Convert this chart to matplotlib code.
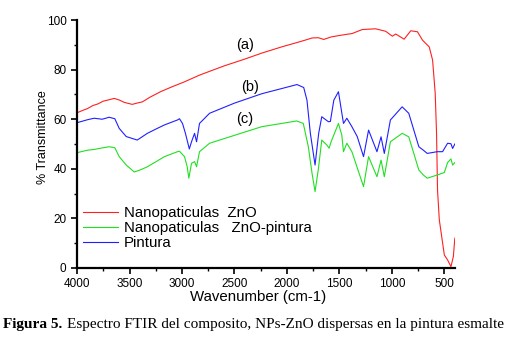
import matplotlib
matplotlib.use('Agg')
import matplotlib.pyplot as plt
from matplotlib.ticker import MultipleLocator

# Spectra (wavenumber cm-1, % transmittance)
wn_zno = [4000, 3950, 3900, 3850, 3800, 3750, 3700, 3646, 3600, 3550, 3474, 3420, 3378,
          3300, 3200, 3100, 2976, 2833, 2600, 2400, 2239, 2050, 1900, 1828, 1760, 1700,
          1649, 1580, 1500, 1378, 1282, 1155, 1059, 995, 963, 883, 820, 756, 708, 644,
          612, 587, 574, 565, 548, 500, 469, 437, 414, 400]
t_zno = [62.6, 63.5, 64.3, 65.5, 66.2, 67.3, 67.8, 68.4, 67.8, 66.8, 66.0, 66.6, 67.0,
         69.0, 71.2, 73.0, 75.1, 77.8, 81.5, 84.3, 86.7, 89.2, 91.0, 91.9, 92.8, 92.9,
         92.2, 93.2, 93.8, 94.6, 96.2, 96.5, 95.5, 93.5, 94.4, 92.3, 95.7, 95.3, 91.9,
         89.2, 83.9, 70.5, 54.0, 31.5, 19.4, 5.2, 3.2, 0.5, 4.6, 12.0]

wn_mix = [4000, 3900, 3837, 3789, 3694, 3640, 3598, 3531, 3455, 3400, 3330, 3250, 3167,
          3043, 3024, 2976, 2950, 2935, 2909, 2880, 2861, 2833, 2737, 2500, 2239, 2050,
          1907, 1844, 1796, 1760, 1732, 1700, 1668, 1620, 1598, 1579, 1509, 1477, 1461,
          1429, 1381, 1333, 1270, 1222, 1142, 1103, 1072, 1014, 902, 839, 743, 700,
          663, 567, 500, 469, 437, 421, 400]
t_mix = [46.5, 47.5, 47.8, 48.2, 48.9, 48.5, 44.9, 41.5, 38.7, 39.5, 40.8, 42.8, 44.9,
         46.9, 47.1, 44.9, 40.8, 36.2, 42.2, 42.9, 40.8, 46.9, 50.3, 53.5, 57.0, 58.3,
         59.3, 58.3, 48.9, 38.0, 30.8, 40.0, 51.6, 49.6, 48.3, 50.9, 58.3, 53.6, 46.9,
         50.3, 46.9, 40.8, 32.8, 44.9, 36.8, 43.5, 36.8, 50.9, 54.3, 52.9, 39.5, 37.5,
         36.2, 37.5, 38.5, 42.5, 44.0, 41.5, 42.5]

wn_paint = [4000, 3900, 3837, 3760, 3694, 3640, 3598, 3531, 3426, 3330, 3250, 3167, 3043,
            3024, 2995, 2967, 2930, 2909, 2880, 2861, 2833, 2737, 2500, 2239, 2048, 1904,
            1840, 1809, 1777, 1732, 1697, 1668, 1605, 1586, 1553, 1509, 1461, 1429, 1381,
            1330, 1270, 1222, 1142, 1103, 1072, 1014, 902, 839, 743, 700, 663, 567, 517,
            469, 437, 421, 400]
t_paint = [58.6, 59.8, 60.4, 60.0, 60.8, 60.2, 56.3, 53.0, 51.6, 54.3, 56.0, 57.7, 59.7,
           60.2, 58.3, 54.3, 48.0, 50.9, 54.3, 50.9, 58.3, 62.4, 66.5, 70.3, 72.4, 74.0,
           72.8, 67.7, 54.4, 41.5, 54.4, 61.0, 59.0, 59.1, 67.7, 71.1, 58.3, 60.4, 57.0,
           53.0, 44.9, 55.6, 46.9, 52.9, 46.2, 59.7, 65.0, 62.4, 48.9, 47.5, 46.2, 46.9,
           46.9, 50.3, 50.1, 48.2, 50.0]

plt.rcParams['font.family'] = ['Liberation Sans', 'DejaVu Sans']

fig = plt.figure(figsize=(5.24, 3.47), dpi=100)
ax = fig.add_axes([0.147, 0.228, 0.721, 0.714])

ax.plot(wn_zno, t_zno, color='#ff2020', lw=0.8, label='Nanopaticulas  ZnO')
ax.plot(wn_mix, t_mix, color='#20e020', lw=0.8, label='Nanopaticulas   ZnO-pintura')
ax.plot(wn_paint, t_paint, color='#2020ff', lw=0.8, label='Pintura')

ax.set_xlim(4000, 400)
ax.set_ylim(0, 100)
ax.xaxis.set_major_locator(MultipleLocator(500))
ax.xaxis.set_minor_locator(MultipleLocator(250))
ax.yaxis.set_major_locator(MultipleLocator(20))
ax.yaxis.set_minor_locator(MultipleLocator(10))
ax.tick_params(which='major', direction='out', length=4, width=1.2, labelsize=8.5)
ax.tick_params(which='minor', direction='out', length=2.5, width=1.0)

for s in ['top', 'right']:
    ax.spines[s].set_visible(False)
for s in ['left', 'bottom']:
    ax.spines[s].set_linewidth(1.6)

ax.set_xlabel('Wavenumber (cm-1)', fontsize=10.8)
ax.set_ylabel('% Transmittance', fontsize=9)
ax.xaxis.set_label_coords(0.48, -0.117)
ax.yaxis.set_label_coords(-0.09, 0.528)
ax.xaxis.label.set_va('center')
ax.yaxis.label.set_va('center')

ax.text(2400, 90, '(a)', fontsize=10.5, ha='center', va='center')
ax.text(2354, 73, '(b)', fontsize=10.5, ha='center', va='center')
ax.text(2400, 60, '(c)', fontsize=10.5, ha='center', va='center')

ax.legend(loc='lower left', bbox_to_anchor=(0.016, 0.073), frameon=False, fontsize=10.8,
          handlelength=2.3, handletextpad=0.4, labelspacing=0.05,
          borderpad=0, borderaxespad=0)

fig.text(0.006, 0.066, 'Figura 5.', fontsize=11, fontweight='bold',
         family='Liberation Serif', va='center')
fig.text(0.128, 0.066, 'Espectro FTIR del composito, NPs-ZnO dispersas en la pintura esmalte',
         fontsize=11, family='Liberation Serif', va='center')

fig.savefig('out.png', dpi=100)
